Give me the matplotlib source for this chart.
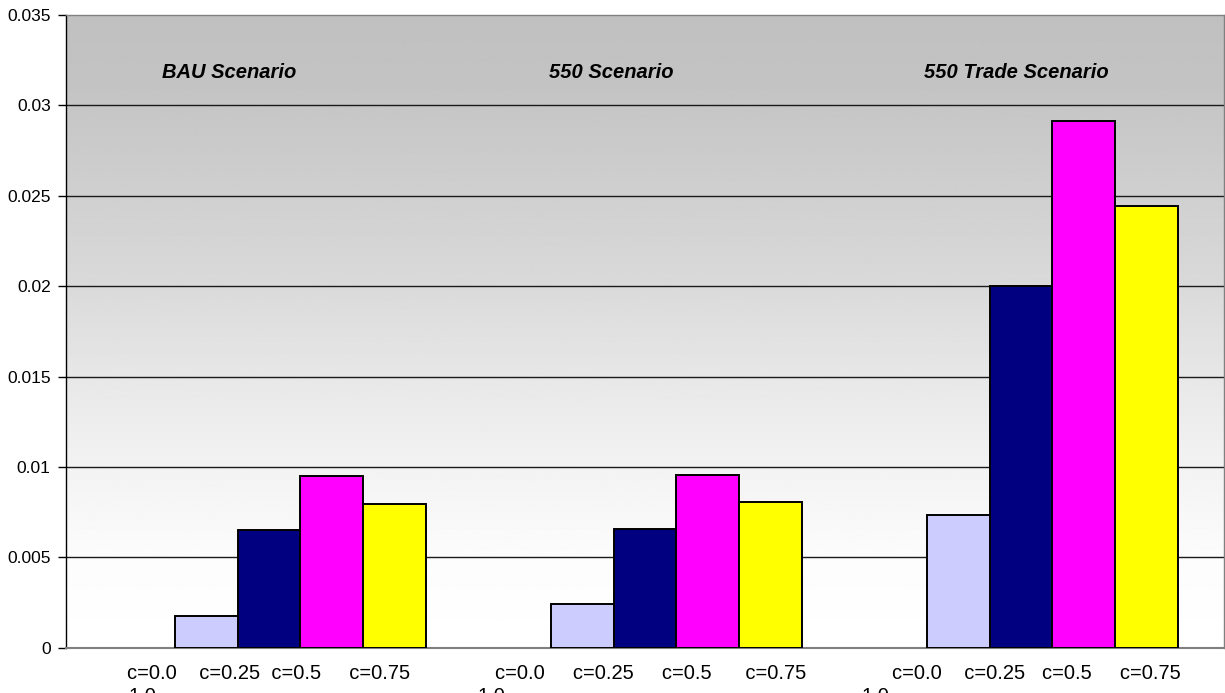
import numpy as np
import matplotlib
matplotlib.use('Agg')
import matplotlib.pyplot as plt

plt.rcParams['font.family'] = ['Liberation Sans', 'DejaVu Sans']

scenarios = ['BAU Scenario', '550 Scenario', '550 Trade Scenario']
series = ['c=0.0', 'c=0.25', 'c=0.5', 'c=0.75', 'c=1.0']
s_c00 = [0.0, 0.0, 0.0]
s_c025 = [0.00175, 0.0024, 0.00734]
s_c05 = [0.00653, 0.00657, 0.0200]
s_c075 = [0.00949, 0.00955, 0.02914]
s_c10 = [0.00795, 0.00806, 0.02445]
values = [s_c00, s_c025, s_c05, s_c075, s_c10]
colors = ['#CCCCFF', '#CCCCFF', '#000080', '#FF00FF', '#FFFF00']

# category label text as printed under each group (wrapped, second line cut off)
cat_line1 = [
    'c=0.0    c=0.25  c=0.5     c=0.75',
    'c=0.0     c=0.25     c=0.5      c=0.75',
    'c=0.0    c=0.25   c=0.5     c=0.75',
]
cat_line2 = ['1.0', '1.0', '1.0']
yticks = [0, 0.005, 0.01, 0.015, 0.02, 0.025, 0.03, 0.035]
ytick_labels = ['0', '0.005', '0.01', '0.015', '0.02', '0.025', '0.03', '0.035']

fig = plt.figure(figsize=(12.25, 6.93), dpi=100)
ax = fig.add_axes([66 / 1225, 1 - 647.7 / 693, (1224 - 66) / 1225, (647.7 - 15) / 693])

# gradient background, gray at top to white near bottom
rows = np.linspace(0, 1, 400)
d_pts = [0.0, 0.10, 0.42, 0.58, 0.72, 0.86, 1.0]
g_pts = [192, 195, 217, 232, 243, 252, 255]
grad = np.interp(rows, d_pts, g_pts) / 255.0
img = np.repeat(grad[:, None], 2, axis=1)
ax.imshow(img, cmap='gray', vmin=0, vmax=1, aspect='auto',
          extent=[-0.54, 2.54, 0, 0.035], origin='upper', zorder=0,
          interpolation='bilinear')

ax.set_xlim(-0.54, 2.54)
ax.set_ylim(0, 0.035)

for yv in yticks[1:-1]:
    ax.axhline(yv, color='#1a1a1a', lw=1.0, zorder=1)

x = np.arange(len(scenarios))
w = 0.1668
for k, (vals, col) in enumerate(zip(values, colors)):
    lws = [1.4 if v > 0 else 0 for v in vals]
    ax.bar(x + (k - 2) * w, vals, width=w, color=col, edgecolor='black',
           linewidth=lws, zorder=3, label=series[k])

# scenario titles
title_x = [-0.106, 0.910, 1.987]
for tx, name in zip(title_x, scenarios):
    ax.text(tx, 0.0318, name, ha='center', va='center', fontsize=14.5,
            fontweight='bold', fontstyle='italic', zorder=4)

# category labels
line1_x = [-0.378, -0.399, -0.343]
line2_x = [-0.375, -0.445, -0.425]
for i in range(len(scenarios)):
    ax.text(i + line1_x[i], -0.0009, cat_line1[i], ha='left', va='top',
            fontsize=14.5, transform=ax.transData, clip_on=False)
    ax.text(i + line2_x[i], -0.0022, cat_line2[i], ha='left', va='top',
            fontsize=14.5, transform=ax.transData, clip_on=False)

ax.set_xticks([])
ax.set_yticks(yticks)
ax.set_yticklabels(ytick_labels, fontsize=12.5)
ax.tick_params(axis='y', direction='out', length=6, width=1, pad=5, color='black')

for side in ['top', 'right']:
    ax.spines[side].set_color('#808080')
    ax.spines[side].set_linewidth(1)
ax.spines['bottom'].set_color('#808080')
ax.spines['bottom'].set_linewidth(1.5)
ax.spines['left'].set_color('black')
ax.spines['left'].set_linewidth(1)

fig.savefig('out.png', dpi=100)
